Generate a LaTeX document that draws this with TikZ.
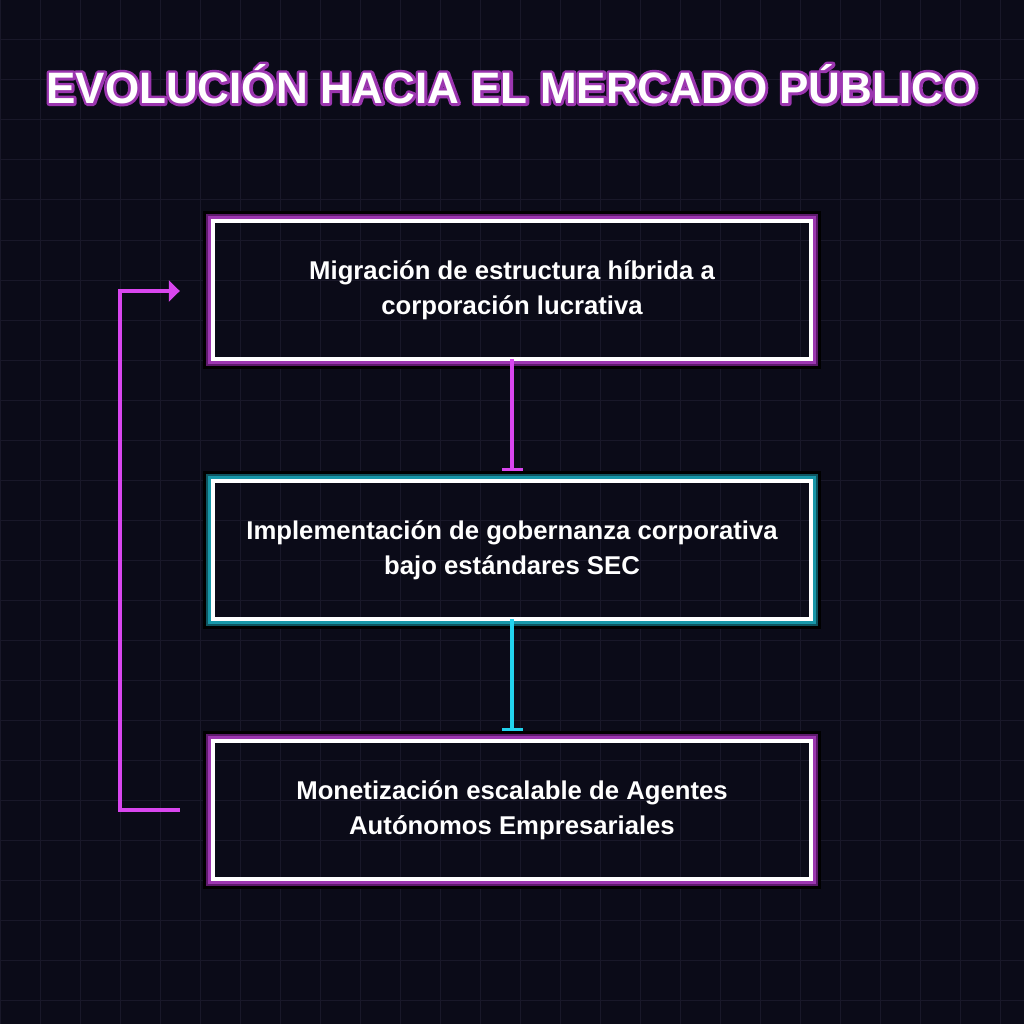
\documentclass[tikz,border=0pt]{standalone}
\usepackage{fontspec}
\setmainfont{Liberation Sans}
\usetikzlibrary{arrows.meta,calc}
\definecolor{bg}{HTML}{0B0B18}
\definecolor{gridc}{HTML}{191829}
\definecolor{mag}{HTML}{D946EF}
\definecolor{magdark}{HTML}{5E1A6C}
\definecolor{magmid}{HTML}{9C36B0}
\definecolor{cyn}{HTML}{22D3EE}
\definecolor{cyndark}{HTML}{0E5560}
\definecolor{cynmid}{HTML}{1797A8}
\tikzset{
  stepbox/.style={draw=none, minimum width=598pt, minimum height=138pt, inner sep=0pt,
    align=center, text=white, font=\fontsize{25.7pt}{35pt}\selectfont\bfseries},
  flowline/.style={line width=4pt},
  bartip/.style={-{Bar[width=21pt,line width=2.5pt]}},
  tritip/.style={-{Triangle[length=11pt,width=21pt]}},
  titlefont/.style={font=\fontsize{44pt}{44pt}\selectfont\bfseries},
}
\newcommand{\glowbox}[3]{%
  \draw[black, line width=8pt] ($(#1.north west)+(-6,-6)$) rectangle ($(#1.south east)+(6,6)$);
  \draw[#2, line width=5pt] ($(#1.north west)+(-4.5,-4.5)$) rectangle ($(#1.south east)+(4.5,4.5)$);
  \draw[#3, line width=3pt] ($(#1.north west)+(-3.5,-3.5)$) rectangle ($(#1.south east)+(3.5,3.5)$);
  \draw[white, line width=4pt] (#1.north west) rectangle (#1.south east);
}
\newcommand{\strokedtext}[1]{%
  \special{pdf:literal direct 2 Tr 5.5 w 1 j 0.612 0.212 0.690 RG}#1\special{pdf:literal direct 0 Tr 0.4 w 0 j}}
\newcommand{\titletext}{EVOLUCIÓN HACIA EL MERCADO PÚBLICO}
\begin{document}
\begin{tikzpicture}[x=1pt,y=-1pt]
\fill[bg] (0,0) rectangle (1024,1024);
\useasboundingbox (0,0) rectangle (1024,1024);
\foreach \i in {0,40,...,1000} {
  \draw[gridc, line width=1pt] (\i,0) -- (\i,1024);
  \draw[gridc, line width=1pt] (0,\i) -- (1024,\i);
}
% title: purple outline underneath, white letters on top
\node[text=magmid, titlefont] (titleglow) at (512,84) {\strokedtext{\titletext}};
\node[text=white, titlefont] (title) at (titleglow.center) {\titletext};

% boxes
\node[stepbox] (a) at (512,290) {};
\node[stepbox] (b) at (512,550) {};
\node[stepbox] (c) at (512,810) {};
\glowbox{a}{magdark}{magmid}
\glowbox{b}{cyndark}{cynmid}
\glowbox{c}{magdark}{magmid}
\node[stepbox] at (a) {Migración de estructura híbrida a\\corporación lucrativa};
\node[stepbox] at (b) {Implementación de gobernanza corporativa\\bajo estándares SEC};
\node[stepbox] at (c) {Monetización escalable de Agentes\\Autónomos Empresariales};

% connectors
\draw[flowline, mag, bartip] (a.south) -- ($(b.north)+(0,-10)$);
\draw[flowline, cyn, bartip] (b.south) -- ($(c.north)+(0,-10)$);
\coordinate (fbstart) at ($(c.west)+(-33,0)$);
\coordinate (fbend) at ($(a.west)+(-33,1)$);
\draw[flowline, mag, tritip] (fbstart) -- (120,810) -- (120,291) -- (fbend);
\end{tikzpicture}
\end{document}
